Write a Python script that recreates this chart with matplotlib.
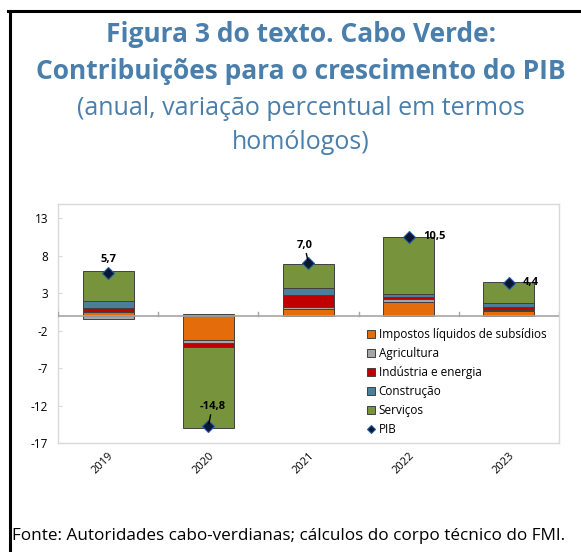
import numpy as np
import matplotlib
matplotlib.use("Agg")
import matplotlib.pyplot as plt
from matplotlib.lines import Line2D

plt.rcParams["font.family"] = ["Open Sans", "DejaVu Sans"]
plt.rcParams["axes.unicode_minus"] = False

# ----------------------------------------------------------------------
# Dados (contribuicoes, pontos percentuais)
# ----------------------------------------------------------------------
anos = ["2019", "2020", "2021", "2022", "2023"]
impostos = [0.5, -3.2, 0.85, 1.78, 0.58]
agricultura = [-0.4, -0.4, 0.3, 0.45, 0.18]
industria = [0.5, -0.6, 1.55, 0.27, 0.4]
construcao = [1.0, 0.2, 0.93, 0.35, 0.49]
servicos = [3.9, -10.8, 3.3, 7.65, 2.8]
pib = [5.7, -14.8, 7.0, 10.5, 4.4]
pib_txt = ["5,7", "-14,8", "7,0", "10,5", "4,4"]

series = [
    ("Impostos líquidos de subsídios", impostos, "#E46C0A"),
    ("Agricultura", agricultura, "#A6A6A6"),
    ("Indústria e energia", industria, "#C00000"),
    ("Construção", construcao, "#4A7E9B"),
    ("Serviços", servicos, "#77933C"),
]

TITLE_C = "#4A7EAB"

fig = plt.figure(figsize=(5.81, 5.52), dpi=100)
ax = fig.add_axes([0.0998, 0.1975, 0.8623, 0.4329])

x = np.arange(len(anos))
pos_bottom = np.zeros(len(anos))
neg_bottom = np.zeros(len(anos))
for nome, vals, cor in series:
    v = np.array(vals, dtype=float)
    bottom = np.where(v >= 0, pos_bottom, neg_bottom)
    ax.bar(x, v, bottom=bottom, width=0.51, color=cor, edgecolor="#404040",
           linewidth=0.7, label=nome, zorder=2)
    pos_bottom += np.where(v >= 0, v, 0)
    neg_bottom += np.where(v < 0, v, 0)

ax.plot(x, pib, ls="none", marker="D", ms=6, mfc="#0B1630", mec="#1F5AA0",
        mew=0.8, label="PIB", zorder=4)

# rotulos do PIB (offset em pixels)
offsets = [(0, 13, "center", False), (4, 20, "center", True),
           (-4, 18, "center", True), (15, 0, "left", False),
           (14, 0, "left", False)]
for xi, yi, txt, (dx, dy, ha, seta) in zip(x, pib, pib_txt, offsets):
    ax.annotate(txt, (xi, yi), xytext=(dx, dy), textcoords="offset pixels",
                ha=ha, va="center", fontsize=8, fontweight="bold", zorder=5,
                arrowprops=dict(arrowstyle="-", color="black", lw=1.0,
                                shrinkA=0, shrinkB=2) if seta else None)

ax.axhline(0, color="#A6A6A6", lw=1.2, zorder=3)
for b in np.arange(len(anos) + 1) - 0.5:
    ax.plot([b, b], [0, 0.5], color="#A6A6A6", lw=1, zorder=3)

ax.set_xlim(-0.5, len(anos) - 0.5)
ax.set_ylim(-17, 14.9)
ax.set_yticks([13, 8, 3, -2, -7, -12, -17])
ax.set_xticks(x + 0.04)
ax.set_xticklabels(anos, rotation=45, ha="right", va="center",
                   rotation_mode="anchor", fontsize=8)
ax.tick_params(axis="y", direction="in", length=3, color="#D9D9D9",
               labelsize=8.5, pad=7)
ax.tick_params(axis="x", length=0, pad=8)
for sp in ax.spines.values():
    sp.set_color("#D9D9D9")
    sp.set_linewidth(1)

h, l = ax.get_legend_handles_labels()
ordem = [1, 2, 3, 4, 5, 0]
ax.legend([h[i] for i in ordem], [l[i] for i in ordem], loc="upper left",
          bbox_to_anchor=(0.607, 0.50), frameon=False, markerscale=0.7,
          fontsize=8.5, handlelength=0.7, handleheight=0.7, handletextpad=0.3,
          labelspacing=0.5, borderaxespad=0)

# titulos
fig.text(0.518, 0.938, "Figura 3 do texto. Cabo Verde:", ha="center",
         va="center", fontsize=19, fontweight="bold", color=TITLE_C)
fig.text(0.518, 0.871, "Contribuições para o crescimento do PIB",
         ha="center", va="center", fontsize=19, fontweight="bold",
         color=TITLE_C)
fig.text(0.518, 0.804, "(anual, variação percentual em termos",
         ha="center", va="center", fontsize=18, color=TITLE_C)
fig.text(0.518, 0.742, "homólogos)", ha="center", va="center", fontsize=18,
         color=TITLE_C)

fig.text(0.021, 0.029, "Fonte: Autoridades cabo-verdianas; cálculos do corpo "
         "técnico do FMI.", ha="left", va="center", fontsize=12.3)

# moldura preta (topo e esquerda)
fig.add_artist(Line2D([0.014, 1.0], [0.980, 0.980], color="black", lw=2.2,
                      transform=fig.transFigure))
fig.add_artist(Line2D([0.0172, 0.0172], [0.0, 0.980], color="black", lw=2.2,
                      transform=fig.transFigure))

fig.savefig("out.png", dpi=100)
